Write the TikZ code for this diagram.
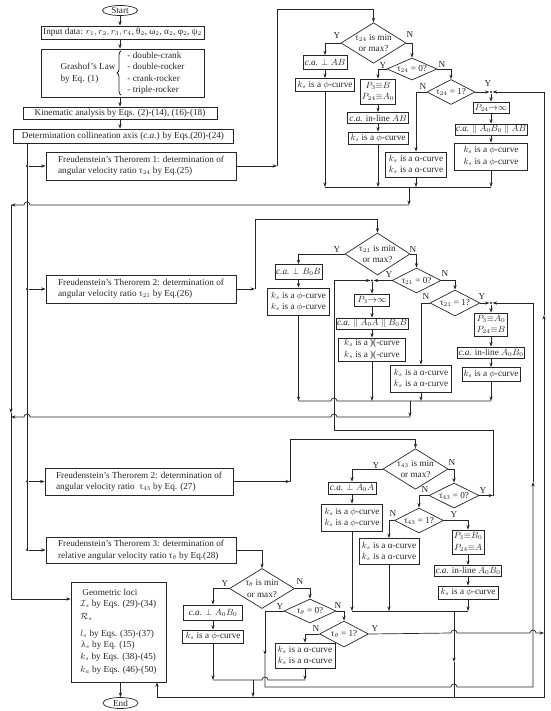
\documentclass[tikz,border=0pt]{standalone}
\usepackage{fontspec}
\setmainfont{Liberation Serif}
\usetikzlibrary{shapes.geometric,arrows.meta,decorations.pathreplacing}

\newcommand{\kphi}{$k_s$ is a $\phi$-curve}
\newcommand{\kalp}{$k_s$ is a α-curve}
\newcommand{\ca}{\textit{c.a.}}

\begin{document}
\begin{tikzpicture}[x=1pt,y=-1pt,
    font=\fontsize{9.2}{11.5}\selectfont, line width=0.7pt, color=black!85,
    >={Stealth[length=4.5pt,width=3.2pt]},
    box/.style={draw, rectangle, inner sep=1pt, align=center},
    txtbox/.style={draw, rectangle, inner xsep=5pt, inner ysep=2pt, align=left},
    dia/.style={draw, diamond, inner sep=0pt, align=center},
    yn/.style={inner sep=0pt},
    dot/.style={circle, fill, inner sep=0pt, minimum size=2.4pt}]

  \useasboundingbox (0,0) rectangle (550,711);

  % main column
  \node[draw, ellipse, inner sep=-1pt, minimum width=35, minimum height=10] (start) at (120,10.5) {Start};
  \node[box, minimum width=163, minimum height=13] (inp) at (122.5,32.5)
    {Input data: $r_1, r_2, r_3, r_4$, θ$_2$, ω$_2$, α$_2$, φ$_2$, ψ$_2$};
  \node[box, minimum width=163, minimum height=48] (gras) at (122.5,73)
    {\begin{tabular}{@{}l@{}}Grashof’s Law\\by Eq. (1)\end{tabular}\hspace{12pt}\begin{tabular}{@{}l@{}}- double-crank\\- double-rocker\\- crank-rocker\\- triple-rocker\end{tabular}};
  \draw[decorate, decoration={brace, amplitude=4pt}, line width=0.8pt] (121,95) -- (121,51);
  \node[box, minimum width=194, minimum height=12] (kin) at (120,113) {Kinematic analysis by Eqs. (2)-(14), (16)-(18)};
  \node[box, minimum width=220, minimum height=14] (det) at (123,136) {Determination collineation axis (\ca) by Eqs.(20)-(24)};
  \node[txtbox, minimum width=190, minimum height=28] (fr1) at (141,166)
    {Freudenstein’s Therorem 1: determination of\\angular velocity ratio τ$_{24}$ by Eq.(25)};
  \node[txtbox, minimum width=190, minimum height=28] (fr2) at (141,289)
    {Freudenstein’s Therorem 2: determination of\\angular velocity ratio τ$_{21}$ by Eq.(26)};
  \node[txtbox, minimum width=188, minimum height=27] (fr3) at (139,481.5)
    {Freudenstein’s Therorem 2: determination of\\angular velocity ratio \ τ$_{43}$ by Eq. (27)};
  \node[txtbox, minimum width=190, minimum height=26] (fr4) at (141,550)
    {Freudenstein’s Therorem 3: determination of\\relative angular velocity ratio τ$_\theta$ by Eq.(28)};
  \node[draw, minimum width=95, minimum height=100, inner sep=2pt, align=left] (loci) at (118.5,632)
    {\hspace*{2pt}Geometric loci\\ $\mathcal{I}_s$ by Eqs. (29)-(34)\\[1.5pt] $\mathcal{R}_s$\\[5pt] $l_s$ by Eqs. (35)-(37)\\
     \hspace*{1pt}λ$_s$ by Eq. (15)\\[0.5pt] $k_s$ by Eqs. (38)-(45)\\[1.5pt] $k_a$ by Eqs. (46)-(50)};
  \node[draw, ellipse, inner sep=-1pt, minimum width=35, minimum height=11] (end) at (120.5,703) {End};

  \draw[->] (start.south) -- (start.south |- inp.north);
  \draw[->] (start.south |- inp.south) -- (start.south |- gras.north);
  \draw[->] (start.south |- gras.south) -- (start.south |- kin.north);
  \draw[->] (start.south |- kin.south) -- (start.south |- det.north);
  \draw[->] (end.north |- loci.south) -- (end.north);

  % left feed and return lines
  \coordinate (lx) at (27,551);
  \coordinate (rx) at (11,599);
  \draw (det.south -| lx) -- (lx);
  \node[dot] (f1) at (fr1.west -| lx) {};
  \node[dot] (f2) at (fr2.west -| lx) {};
  \node[dot] (f3) at (fr3.west -| lx) {};
  \node[dot] (f4) at (fr4.west -| lx) {};
  \draw[->] (f1) -- (fr1.west);
  \draw[->] (f2) -- (fr2.west);
  \draw[->] (f3) -- (fr3.west);
  \draw[->] (f4) -- (fr4.west);
  \draw[->] (11,205) -- (11,413);
  \draw (11,413) -- (rx);
  \draw[->] (rx) -- (rx -| loci.west);

  % theorem 1
  \node[dia, minimum width=65, minimum height=40, shape aspect=1.6] (d1a) at (373.5,43) {τ$_{24}$ is min\\or max?};
  \node[box, minimum width=44, minimum height=14] (ca1) at (325,62.5) {\ca{} $\perp AB$};
  \node[box, minimum width=59, minimum height=13] (ks1) at (325,85) {\kphi};
  \node[dia, minimum width=50, minimum height=22, shape aspect=2.3] (d1b) at (412,69) {τ$_{24}$ = 0?};
  \node[box, minimum width=35, minimum height=25] (p1) at (378,91.5) {$P_3{\equiv}B$\\$P_{24}{\equiv}A_0$};
  \node[box, minimum width=61, minimum height=11] (il1) at (378,118) {\ca{} in-line $AB$};
  \node[box, minimum width=60, minimum height=12] (ks1b) at (378,138) {\kphi};
  \node[dia, minimum width=48, minimum height=25, shape aspect=2] (d1c) at (451,92) {τ$_{24}$ = 1?};
  \node[box, minimum width=61, minimum height=25] (a1) at (416,164.5) {\kalp\\\kalp};
  \node[box, minimum width=36, minimum height=11] (p1b) at (491,107.5) {$P_{24}{\to}\infty$};
  \node[box, minimum width=65, minimum height=11] (pl1) at (491,129.5) {\ca{} $\parallel A_0B_0\parallel AB$};
  \node[box, minimum width=73, minimum height=27] (ks1c) at (491,156.5) {\kphi\\\kphi};
  \node[dot] (j1) at (d1c.east -| p1b.north) {};
  \node[yn] (ya1) at (337,35) {Y};
  \node[yn] (na1) at (410,34) {N};
  \node[yn] (yb1) at (383,65) {Y};
  \node[yn] (nb1) at (442,64) {N};
  \node[yn] (nc1) at (423,86) {N};
  \node[yn] (yc1) at (488,83) {Y};

  \coordinate (t1) at (277,9);
  \draw[->] (fr1.east) -- (fr1.east -| t1);
  \draw[->] (fr1.east -| t1) -- (t1) -| (d1a.north);
  \draw[->] (d1a.west) -| (ca1.north);
  \draw[->] (ca1) -- (ks1);
  \draw[->] (d1a.east) -| (d1b.north);
  \draw[->] (d1b.west) -| (p1.north);
  \draw[->] (p1) -- (il1);
  \draw[->] (il1) -- (ks1b);
  \draw[->] (d1b.east) -| (d1c.north);
  \draw[->] (d1c.west) -| (a1.north);
  \draw[->] (d1c.east) -- (j1);
  \draw[->] (j1) -- (p1b);
  \draw[->] (p1b) -- (pl1);
  \draw[->] (pl1) -- (ks1c);

  \coordinate (m1) at (409,187);
  \coordinate (m1b) at (409,205);
  \draw[->] (ks1.south) -- (ks1.south |- m1);
  \draw[->] (ks1b.south) -- (ks1b.south |- m1);
  \draw[->] (a1.south) -- (a1.south |- m1);
  \draw[->] (ks1c.south) -- (ks1c.south |- m1);
  \draw (ks1.south |- m1) -- (ks1c.south |- m1);
  \draw[->] (m1) -- (m1b);
  \draw[->] (m1b) -- (30,205) arc[start angle=0, end angle=180, radius=3pt] -- (rx |- m1b);

  % theorem 2
  \node[dia, minimum width=65, minimum height=42, shape aspect=1.55] (d2a) at (377.5,254) {τ$_{21}$ is min\\or max?};
  \node[box, minimum width=45, minimum height=15] (ca2) at (298.5,272) {\ca{} $\perp B_0B$};
  \node[box, minimum width=62, minimum height=27] (ks2) at (298.5,301.5) {\kphi\\\kphi};
  \node[dia, minimum width=49, minimum height=25, shape aspect=2] (d2b) at (416.5,280.5) {τ$_{21}$ = 0?};
  \node[box, minimum width=35, minimum height=12] (p2) at (372,300) {$P_3{\to}\infty$};
  \node[box, minimum width=65, minimum height=11] (pl2) at (372,323.5) {\ca{} $\parallel A_0A\parallel B_0B$};
  \node[box, minimum width=67, minimum height=23] (rc2) at (372,349.5) {$k_s$ is a )(-curve\\$k_s$ is a )(-curve};
  \node[dia, minimum width=50, minimum height=26, shape aspect=2] (d2c) at (455,303) {τ$_{21}$ = 1?};
  \node[box, minimum width=61, minimum height=27] (a2) at (421,378.5) {\kalp\\\kalp};
  \node[box, minimum width=33, minimum height=23] (p2b) at (491,324.5) {$P_3{\equiv}A_0$\\$P_{24}{\equiv}B$};
  \node[box, minimum width=64, minimum height=11] (il2) at (491,352.5) {\ca{} in-line $A_0B_0$};
  \node[box, minimum width=58, minimum height=14] (ks2c) at (491,374.5) {\kphi};
  \node[dot] (j2) at (d2b.west -| p2.north) {};
  \node[dot] (j2b) at (d2c.east -| p2b.north) {};
  \node[yn] (ya2) at (337,249) {Y};
  \node[yn] (na2) at (413,249) {N};
  \node[yn] (yb2) at (389,274) {Y};
  \node[yn] (nb2) at (445,273) {N};
  \node[yn] (nc2) at (426,296) {N};
  \node[yn] (yc2) at (482,296) {Y};

  \coordinate (t2) at (255,219);
  \draw[->] (fr2.east) -- (fr2.east -| t2);
  \draw[->] (fr2.east -| t2) -- (t2) -| (d2a.north);
  \draw[->] (d2a.west) -| (ca2.north);
  \draw[->] (ca2) -- (ks2);
  \draw[->] (d2a.east) -| (d2b.north);
  \draw[->] (d2b.west) -- (j2);
  \draw[->] (j2) -- (p2);
  \draw[->] (p2) -- (pl2);
  \draw[->] (pl2) -- (rc2);
  \draw[->] (d2b.east) -| (d2c.north);
  \draw[->] (d2c.west) -| (a2.north);
  \draw[->] (d2c.east) -- (j2b);
  \draw[->] (j2b) -- (p2b);
  \draw[->] (p2b) -- (il2);
  \draw[->] (il2) -- (ks2c);

  \coordinate (m2) at (410,401);
  \coordinate (m2b) at (410,417);
  \draw[->] (ks2.south) -- (ks2.south |- m2);
  \draw[->] (rc2.south) -- (rc2.south |- m2);
  \draw[->] (a2.south) -- (a2.south |- m2);
  \draw[->] (ks2c.south) -- (ks2c.south |- m2);
  \draw (ks2.south |- m2) -- (331,401) arc[start angle=180, end angle=0, radius=3pt] -- (ks2c.south |- m2);
  \draw[->] (m2) -- (m2b);
  \draw[->] (m2b) -- (337,417) arc[start angle=0, end angle=180, radius=3pt]
    -- (30,417) arc[start angle=0, end angle=180, radius=3pt] -- (rx |- m2b);

  % theorem 2, tau 43
  \node[dia, minimum width=65, minimum height=40, shape aspect=1.6] (d3a) at (415.5,469) {τ$_{43}$ is min\\or max?};
  \node[box, minimum width=48, minimum height=12] (ca3) at (352,488) {\ca{} $\perp A_0A$};
  \node[box, minimum width=61, minimum height=27] (ks3) at (352,517.5) {\kphi\\\kphi};
  \node[dia, minimum width=50, minimum height=25, shape aspect=2] (d3b) at (454,495.5) {τ$_{43}$ = 0?};
  \node[dia, minimum width=49, minimum height=25, shape aspect=2] (d3c) at (419,520.5) {τ$_{43}$ = 1?};
  \node[box, minimum width=60, minimum height=26] (a3) at (389,551.5) {\kalp\\\kalp};
  \node[box, minimum width=32, minimum height=24] (p3) at (468,542) {$P_3{\equiv}B_0$\\$P_{24}{\equiv}A$};
  \node[box, minimum width=64, minimum height=11] (il3) at (468,571) {\ca{} in-line $A_0B_0$};
  \node[box, minimum width=60, minimum height=13] (ks3c) at (468,592.5) {\kphi};
  \node[yn] (ya3) at (376,465) {Y};
  \node[yn] (na3) at (452,462) {N};
  \node[yn] (nb3) at (425,489) {N};
  \node[yn] (yb3) at (483,490) {Y};
  \node[yn] (nc3) at (393,513) {N};
  \node[yn] (yc3) at (454,514) {Y};

  \coordinate (t3) at (290,439);
  \draw[->] (fr3.east) -- (fr3.east -| t3);
  \draw[->] (fr3.east -| t3) -- (t3) -| (d3a.north);
  \draw[->] (d3a.west) -| (ca3.north);
  \draw[->] (ca3) -- (ks3);
  \draw[->] (d3a.east) -| (d3b.north);
  \draw[->] (d3b.west) -| (d3c.north);
  \draw[->] (d3c.west) -| (a3.north);
  \draw[->] (d3c.east) -| (p3.north);
  \draw[->] (p3) -- (il3);
  \draw[->] (il3) -- (ks3c);

  \coordinate (q1) at (334,430);
  \coordinate (q2) at (493,430);
  \draw[->] (d3b.east) -- (d3b.east -| q2);
  \draw[->] (d3b.east -| q2) -- (q2) -- (q1) -- (q1 |- j2) -- (j2);

  \coordinate (m3) at (454,611);
  \coordinate (bt) at (454,697);
  \coordinate (bl) at (157,697);
  \draw[->] (ks3.south) -- (ks3.south |- m3);
  \draw[->] (a3.south) -- (a3.south |- m3);
  \draw[->] (ks3c.south) -- (ks3c.south |- m3);
  \draw (ks3.south |- m3) -- (ks3c.south |- m3);
  \draw[->] (m3) -- (454,662);
  \draw (454,662) -- (bt);
  \draw[->] (bt) -- (bl) -- (bl |- loci.south);

  % theorem 3
  \node[dia, minimum width=65, minimum height=40, shape aspect=1.6] (d4a) at (262,588.5) {τ$_\theta$ is min\\or max?};
  \node[box, minimum width=59, minimum height=15] (ca4) at (213,612.5) {\ca{} $\perp A_0B_0$};
  \node[box, minimum width=61, minimum height=13] (ks4) at (213,636.5) {\kphi};
  \node[dia, minimum width=52, minimum height=24, shape aspect=2.1] (d4b) at (310,611) {τ$_\theta$ = 0?};
  \node[dia, minimum width=49, minimum height=26, shape aspect=2] (d4c) at (344,634) {τ$_\theta$ = 1?};
  \node[box, minimum width=60, minimum height=25] (a4) at (305,655.5) {\kalp\\\kalp};
  \node[yn] (ya4) at (225,583) {Y};
  \node[yn] (na4) at (300,581) {N};
  \node[yn] (yb4) at (280,606) {Y};
  \node[yn] (nb4) at (338,605) {N};
  \node[yn] (nc4) at (316,628) {N};
  \node[yn] (yc4) at (375,628) {Y};

  \draw[->] (fr4.east) -| (d4a.north);
  \draw[->] (d4a.west) -| (ca4.north);
  \draw[->] (ca4) -- (ks4);
  \draw[->] (d4a.east) -| (d4b.north);
  \draw[->] (d4b.east) -| (d4c.north);
  \draw[->] (d4c.west) -| (a4.north);

  \coordinate (m4) at (253,680);
  \draw[->] (ks4.south) -- (ks4.south |- m4);
  \draw[->] (a4.south) -- (a4.south |- m4);
  \draw (ks4.south |- m4) -- (262,680) arc[start angle=180, end angle=0, radius=3pt] -- (a4.south |- m4);
  \draw[->] (m4) -- (m4 |- bt);

  % cross links on the right
  \coordinate (g1) at (265,687);
  \coordinate (la) at (533,687);
  \coordinate (lb) at (544,633);
  \draw[->] (d4b.west) -| (265,655);
  \draw[->] (265,655) -- (g1) -- (451,687) arc[start angle=180, end angle=0, radius=3pt] -- (la) -- (533,482);
  \draw[->] (533,482) |- (j2b);
  \draw[->] (d4c.east) -- (451,633) arc[start angle=180, end angle=0, radius=3pt]
    -- (530,633) arc[start angle=180, end angle=0, radius=3pt] -- (lb);
  \draw (bt) -- (bt -| lb) -- (lb);
  \draw[->] (lb) -- (544,315);
  \draw[->] (544,315) |- (j1);
\end{tikzpicture}
\end{document}
